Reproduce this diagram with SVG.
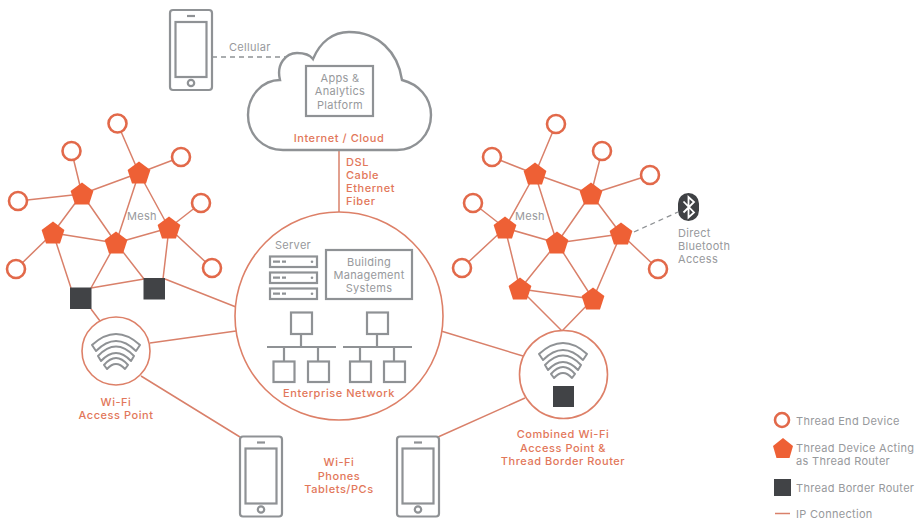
<svg xmlns="http://www.w3.org/2000/svg" width="919" height="524" viewBox="0 0 919 524">
<style>
text{font-family:Inter,"Liberation Sans",sans-serif;font-size:11px;letter-spacing:.3px}
.g{fill:#97999c}
.o{fill:#e2775a;font-weight:500;letter-spacing:.55px}
.m{text-anchor:middle}
.ln{stroke:#d9806a;stroke-width:1.5;fill:none}
.d{stroke:#8f9295;stroke-width:1.3;stroke-dasharray:5 4;fill:none}
.box{fill:#fff;stroke:#8f9295;stroke-width:2.2}
.net{stroke:#8f9295;stroke-width:2.2;fill:none}
.ring{fill:#fff;stroke:#dd8068;stroke-width:1.6}
.end{fill:#fff;stroke:#e2694a;stroke-width:2.6}
.pent{fill:#ee6035}
.sq{fill:#414346}
.band{fill:#fff;stroke:#8f9295;stroke-width:2;stroke-linejoin:round}
</style>
<defs>
<polygon id="pent" class="pent" points="0,-11.5 11.4,-3 7,10.5 -7,10.5 -11.4,-3"/>
<circle id="end" class="end" r="9"/>
<g id="wifi">
<path class="band" d="M-24 11Q0 -11 24 11L20 17Q0 -3 -20 17Z"/>
<path class="band" d="M-18 22Q0 3 18 22L15 27Q0 11 -15 27Z"/>
<path class="band" d="M-12 31Q0 17 12 31L9 35Q0 25 -9 35Z"/>
</g>
<g id="phone">
<rect class="box" x="0" y="0" width="42" height="80" rx="3"/>
<rect class="box" x="5.500" y="12" width="31" height="55"/>
<path class="net" d="M17 6H25"/>
<circle class="box" cx="21" cy="73" r="3.200"/>
</g>
<g id="srv">
<rect class="box" width="47" height="10.500"/>
<path d="M3 5.200H10M12 5.200H16" class="net" stroke-width="1.500"/>
<circle cx="42" cy="5.200" r="1.300" fill="#8f9295"/>
</g>
</defs>
<rect width="919" height="524" fill="#fff"/>

<g id="connectors">
<path class="d" d="M212 57H285"/>
<path class="d" d="M634 232L678 212"/>
<path class="ln" d="M339 150V212"/>
<path class="ln" d="M117.500 123.500L139 173M71.500 151L82 194M181 157L139 173M201 203L169 228M18 201L82 194M16 269L53 233M212 268L169 228"/>
<path class="ln" d="M82 194L139 173M82 194L53 233M82 194L116 243M139 173L116 243M139 173L169 228M53 233L116 243M116 243L169 228"/>
<path class="ln" d="M53 233L71 288M116 243L91 288M116 243L144 279M169 228L163 279M91 288L144 279M165 279L236 307M91 309L100 321"/>
<path class="ln" d="M150 343L236 331M141 376L240 437"/>
<path class="ln" d="M556 124L535 174M492 157L535 174M602 151L591 194M650 175L591 194M473 203L505 228M462 268L505 228M658 269L621 234"/>
<path class="ln" d="M535 174L591 194M535 174L505 228M535 174L557 243M591 194L557 243M591 194L621 234M505 228L557 243M557 243L621 234M505 228L520 289M557 243L520 289M557 243L593 299M621 234L593 299M520 289L593 299M520 289L562 331M593 299L562 331"/>
<path class="ln" d="M441 331L523 356M525 398L438 437"/>
</g>

<g id="phone-cellular"><use href="#phone" x="170" y="10"/></g>
<text class="g" x="229" y="51">Cellular</text>

<g id="cloud">
<path d="M280 80C276 64 286 53 297 53C304 53 310 55 313 59C320 42 333 32 349 32C378 32 398 52 402 80C418 84 431 97 431 115C431 135 416 150 397 150L283 150C263 150 248 135 248 115C248 95 263 80 280 80Z" fill="#fff" stroke="#8f9295" stroke-width="2.400"/>
<rect class="box" x="306" y="66" width="67" height="50"/>
<text class="g m" x="340" y="82">Apps &amp;</text>
<text class="g m" x="340" y="95">Analytics</text>
<text class="g m" x="340" y="108.500">Platform</text>
<text class="o m" x="339" y="142">Internet / Cloud</text>
</g>
<text class="o" x="346" y="166">DSL</text>
<text class="o" x="346" y="179">Cable</text>
<text class="o" x="346" y="192">Ethernet</text>
<text class="o" x="346" y="205">Fiber</text>

<g id="mesh-left">
<g id="le1"><use href="#end" x="117.500" y="123.500"/></g>
<g id="le2"><use href="#end" x="71.500" y="151"/></g>
<g id="le3"><use href="#end" x="181" y="157"/></g>
<g id="le4"><use href="#end" x="201" y="203"/></g>
<g id="le5"><use href="#end" x="18" y="201"/></g>
<g id="le6"><use href="#end" x="16" y="269"/></g>
<g id="le7"><use href="#end" x="212" y="268"/></g>
<g id="lr1"><use href="#pent" x="139" y="173"/></g>
<g id="lr2"><use href="#pent" x="82" y="194"/></g>
<g id="lr3"><use href="#pent" x="53" y="233"/></g>
<g id="lr4"><use href="#pent" x="116" y="243"/></g>
<g id="lr5"><use href="#pent" x="169" y="228"/></g>
<g id="lb1"><rect class="sq" x="70" y="287.500" width="21.500" height="21.500"/></g>
<g id="lb2"><rect class="sq" x="143.500" y="278" width="21.500" height="21.500"/></g>
<text class="g m" x="142" y="220">Mesh</text>
</g>

<g id="mesh-right">
<g id="re1"><use href="#end" x="556" y="124"/></g>
<g id="re2"><use href="#end" x="492" y="157"/></g>
<g id="re3"><use href="#end" x="602" y="151"/></g>
<g id="re4"><use href="#end" x="650" y="175"/></g>
<g id="re5"><use href="#end" x="473" y="203"/></g>
<g id="re6"><use href="#end" x="462" y="268"/></g>
<g id="re7"><use href="#end" x="658" y="269"/></g>
<g id="rr1"><use href="#pent" x="535" y="174"/></g>
<g id="rr2"><use href="#pent" x="591" y="194"/></g>
<g id="rr3"><use href="#pent" x="505" y="228"/></g>
<g id="rr4"><use href="#pent" x="557" y="243"/></g>
<g id="rr5"><use href="#pent" x="621" y="234"/></g>
<g id="rr6"><use href="#pent" x="520" y="289"/></g>
<g id="rr7"><use href="#pent" x="593" y="299"/></g>
<text class="g m" x="530" y="220">Mesh</text>
</g>

<g id="bluetooth">
<rect x="678" y="193" width="21" height="28" rx="10.500" fill="#3f4144"/>
<path d="M683.500 201.500L694 212.500L688.500 217.500V197L694 202L683.500 212.500" fill="none" stroke="#fff" stroke-width="1.800"/>
<text class="g" x="678" y="237">Direct</text>
<text class="g" x="678" y="250">Bluetooth</text>
<text class="g" x="678" y="263">Access</text>
</g>

<g id="enterprise">
<circle class="ring" cx="339" cy="316" r="104"/>
<text class="g m" x="293" y="249">Server</text>
<use href="#srv" x="270" y="256.500"/>
<use href="#srv" x="270" y="272.500"/>
<use href="#srv" x="270" y="288.500"/>
<rect class="box" x="326" y="250" width="86" height="49"/>
<text class="g m" x="369" y="266">Building</text>
<text class="g m" x="369" y="279">Management</text>
<text class="g m" x="369" y="292">Systems</text>
<path class="net" d="M301 334V347M267 347H336M284 347V361M318 347V361M377 334V347M343 347H412M360 347V361M394 347V361"/>
<rect class="box" x="291" y="312.500" width="21" height="21.500"/>
<rect class="box" x="273.500" y="361.500" width="21" height="20.500"/>
<rect class="box" x="308" y="361.500" width="21" height="20.500"/>
<rect class="box" x="367" y="312.500" width="21" height="21.500"/>
<rect class="box" x="350" y="361.500" width="21" height="20.500"/>
<rect class="box" x="384" y="361.500" width="21" height="20.500"/>
<text class="o m" x="339" y="397">Enterprise Network</text>
</g>

<g id="wifi-ap">
<circle class="ring" cx="116" cy="351" r="34"/>
<use href="#wifi" x="116" y="334"/>
<text class="o m" x="116" y="406">Wi-Fi</text>
<text class="o m" x="116" y="419">Access Point</text>
</g>

<g id="combined-ap">
<circle class="ring" cx="563.500" cy="374.500" r="44"/>
<use href="#wifi" x="563" y="343"/>
<rect class="sq" x="553" y="386" width="21" height="21"/>
<text class="o m" x="563" y="438">Combined Wi-Fi</text>
<text class="o m" x="563" y="452">Access Point &amp;</text>
<text class="o m" x="563" y="465">Thread Border Router</text>
</g>

<g id="phone-left"><use href="#phone" x="240" y="436.500"/></g>
<g id="phone-right"><use href="#phone" x="397" y="436.500"/></g>
<text class="o m" x="339" y="466">Wi-Fi</text>
<text class="o m" x="339" y="480">Phones</text>
<text class="o m" x="339" y="493">Tablets/PCs</text>

<g id="legend">
<circle class="end" cx="782" cy="420" r="7"/>
<polygon class="pent" points="783,438 793,446 789.500,458 776.500,458 773,446"/>
<rect class="sq" x="774" y="479" width="17" height="17"/>
<path class="ln" d="M775 513.500H790"/>
<text class="g" x="796" y="425">Thread End Device</text>
<text class="g" x="796" y="452">Thread Device Acting</text>
<text class="g" x="796" y="465">as Thread Router</text>
<text class="g" x="796" y="492">Thread Border Router</text>
<text class="g" x="796" y="518">IP Connection</text>
</g>
</svg>
